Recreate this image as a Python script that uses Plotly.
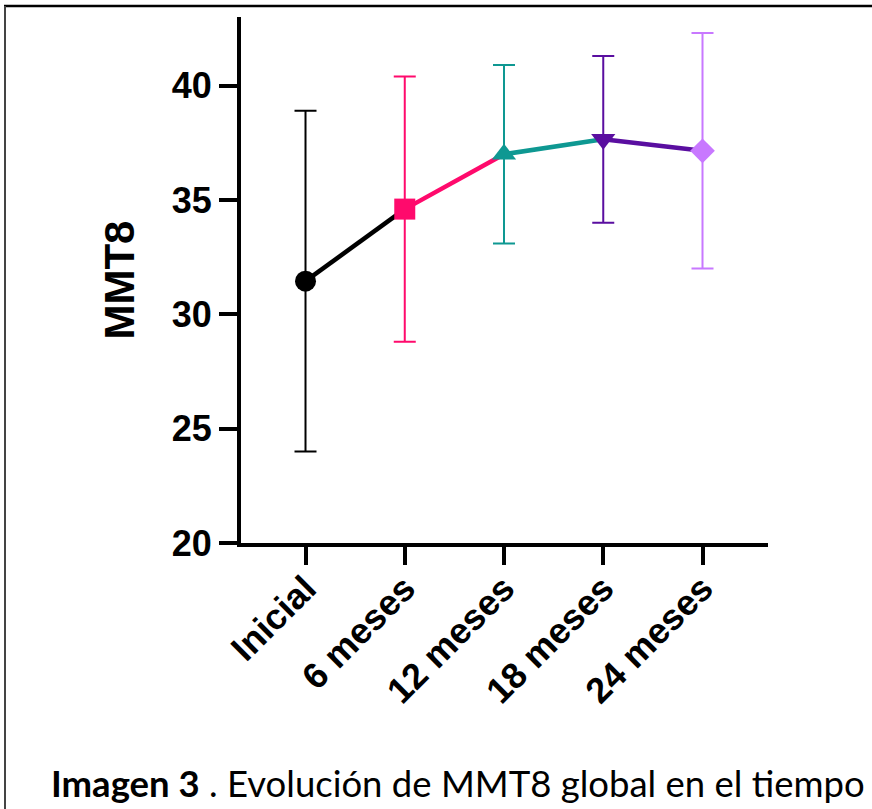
import plotly.graph_objects as go

categories = ["Inicial", "6 meses", "12 meses", "18 meses", "24 meses"]
means = [31.45, 34.6, 37.0, 37.65, 37.15]
sds = [7.45, 5.8, 3.9, 3.65, 5.15]
colors = ["#000000", "#FF0A6C", "#0E9892", "#5A0EA0", "#C878FF"]
symbols = ["circle", "square", "triangle-up", "triangle-down", "diamond"]
y_ticks = [20, 25, 30, 35, 40]

fig = go.Figure()

# connecting segments, each coloured as its starting point
for i in range(len(categories) - 1):
    fig.add_trace(go.Scatter(
        x=categories[i:i + 2], y=means[i:i + 2], mode="lines",
        line=dict(color=colors[i], width=4.5), showlegend=False, hoverinfo="skip"))

# points with SD error bars
for i, cat in enumerate(categories):
    fig.add_trace(go.Scatter(
        x=[cat], y=[means[i]], mode="markers",
        marker=dict(symbol=symbols[i], color=colors[i],
                    size=21 if symbols[i] != "diamond" else 19,
                    line=dict(width=0)),
        error_y=dict(type="data", array=[sds[i]], visible=True, color=colors[i],
                     thickness=2, width=11),
        showlegend=False))

L, R, T, B = 241, 768, 17, 543
W, H = 872, 809
pw, ph = R - L, B - T

def px_x(p):
    return (p - L) / pw

def px_y(p):
    return (B - p) / ph

fig.update_layout(
    width=W, height=H,
    margin=dict(l=L, r=W - R, t=T, b=H - B),
    paper_bgcolor="white", plot_bgcolor="white",
    font=dict(family="Liberation Sans, Arial, sans-serif", color="black"),
    xaxis=dict(
        type="category", range=[-0.65, 4.66], showgrid=False, zeroline=False,
        showline=True, linecolor="black", linewidth=4,
        ticks="outside", ticklen=18, tickwidth=4, tickcolor="black",
        tickangle=-45, ticklabelstandoff=-12,
        tickfont=dict(size=36, weight="bold", color="black"),
    ),
    yaxis=dict(
        range=[20, 43], tickvals=y_ticks, showgrid=False, zeroline=False,
        showline=True, linecolor="black", linewidth=4,
        ticks="outside", ticklen=18, tickwidth=4, tickcolor="black",
        tickfont=dict(size=36, weight="bold", color="black"),
        title=dict(text="MMT8", font=dict(size=42, weight="bold", color="black"), standoff=25),
    ),
    shapes=[
        dict(type="line", xref="paper", yref="paper", x0=px_x(4), x1=px_x(880),
             y0=px_y(6), y1=px_y(6), line=dict(color="black", width=2.5)),
        dict(type="line", xref="paper", yref="paper", x0=px_x(5), x1=px_x(5),
             y0=px_y(6), y1=px_y(820), line=dict(color="#444444", width=2)),
    ],
    annotations=[
        dict(text="<b>Imagen 3</b> . Evolución de MMT8 global en el tiempo",
             xref="paper", yref="paper", x=px_x(49), y=px_y(783),
             xanchor="left", yanchor="middle", showarrow=False,
             font=dict(family="Lato, Open Sans, sans-serif", size=36.5, color="black")),
    ],
)

fig.write_html("out.html", config={"displayModeBar": False},
               post_script="document.body.style.margin='0';document.body.style.overflow='hidden';")
